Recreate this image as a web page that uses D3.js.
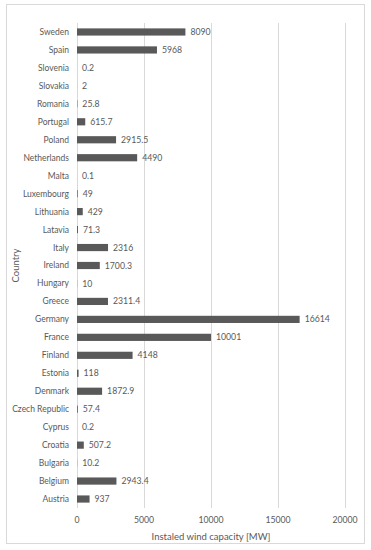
<!DOCTYPE html>
<html>
<head>
<meta charset="utf-8">
<script src="https://cdn.jsdelivr.net/npm/d3@7"></script>
<style>
body { margin: 0; background: #fff; }
text { font-family: Lato, "Open Sans", sans-serif; fill: #595959; }
</style>
</head>
<body>
<div id="chart"></div>
<script>
/* Data */
var countries = ["Sweden", "Spain", "Slovenia", "Slovakia", "Romania", "Portugal", "Poland",
    "Netherlands", "Malta", "Luxembourg", "Lithuania", "Latavia", "Italy", "Ireland", "Hungary",
    "Greece", "Germany", "France", "Finland", "Estonia", "Denmark", "Czech Republic", "Cyprus",
    "Croatia", "Bulgaria", "Belgium", "Austria"];
var capacity = [8090, 5968, 0.2, 2, 25.8, 615.7, 2915.5, 4490, 0.1, 49, 429, 71.3, 2316, 1700.3,
    10, 2311.4, 16614, 10001, 4148, 118, 1872.9, 57.4, 0.2, 507.2, 10.2, 2943.4, 937];
var xTicks = [0, 5000, 10000, 15000, 20000];

var width = 371, height = 550;
var svg = d3.select("#chart").append("svg")
    .attr("width", width)
    .attr("height", height);

// outer frame
svg.append("rect")
    .attr("x", 6.5).attr("y", 4.5)
    .attr("width", 358).attr("height", 539)
    .attr("fill", "#fff")
    .attr("stroke", "#d9d9d9");

var x = d3.scaleLinear().domain([0, 20000]).range([77, 345]);
var y = d3.scaleBand().domain(countries).range([23, 508]).paddingInner(0.6).paddingOuter(0.3);

// gridlines
svg.append("g").selectAll("line").data(xTicks).enter().append("line")
    .attr("x1", function (d) { return Math.round(x(d)) + 0.5; })
    .attr("x2", function (d) { return Math.round(x(d)) + 0.5; })
    .attr("y1", 23).attr("y2", 508)
    .attr("stroke", "#d9d9d9");

// bars
svg.append("g").selectAll("rect").data(countries).enter().append("rect")
    .attr("x", x(0))
    .attr("y", function (d) { return y(d); })
    .attr("width", function (d, i) { return x(capacity[i]) - x(0); })
    .attr("height", y.bandwidth())
    .attr("fill", "#595959");

// value labels
svg.append("g").selectAll("text").data(countries).enter().append("text")
    .attr("x", function (d, i) { return x(capacity[i]) + 5; })
    .attr("y", function (d) { return y(d) + y.bandwidth() / 2; })
    .attr("dy", "0.35em")
    .attr("font-size", 8.7)
    .text(function (d, i) { return capacity[i]; });

// category labels
svg.append("g").selectAll("text").data(countries).enter().append("text")
    .attr("x", 69)
    .attr("y", function (d) { return y(d) + y.bandwidth() / 2; })
    .attr("dy", "0.35em")
    .attr("text-anchor", "end")
    .attr("font-size", 8.5)
    .text(function (d) { return d; });

// x tick labels
svg.append("g").selectAll("text").data(xTicks).enter().append("text")
    .attr("x", function (d) { return x(d); })
    .attr("y", 523)
    .attr("text-anchor", "middle")
    .attr("font-size", 8.7)
    .text(function (d) { return d; });

// axis titles
svg.append("text")
    .attr("x", x(10000)).attr("y", 540)
    .attr("text-anchor", "middle")
    .attr("font-size", 9.5)
    .text("Instaled wind capacity [MW]");

svg.append("text")
    .attr("transform", "translate(19," + ((23 + 508) / 2) + ") rotate(-90)")
    .attr("text-anchor", "middle")
    .attr("font-size", 9.5)
    .text("Country");
</script>
</body>
</html>
